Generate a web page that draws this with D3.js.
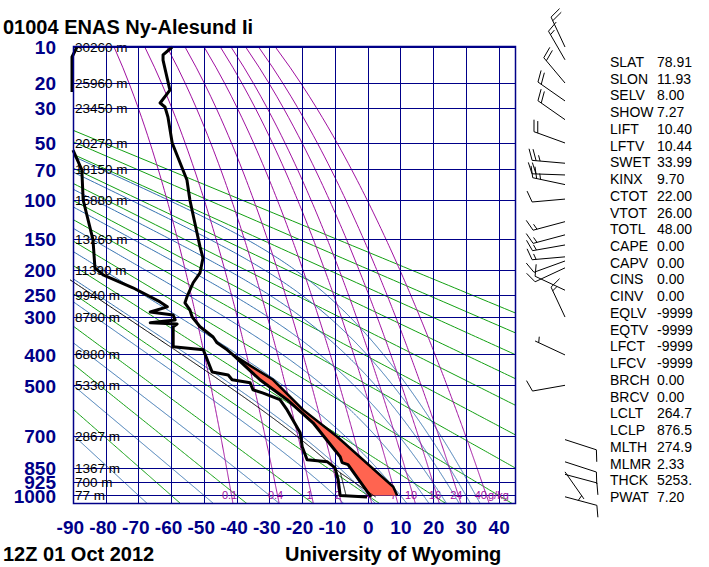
<!DOCTYPE html>
<html>
<head>
<meta charset="UTF-8">
<title>01004 ENAS Ny-Alesund Ii</title>
<script src="https://d3js.org/d3.v7.min.js"></script>
<style>
  body { margin: 0; background: #fff; }
  svg { display: block; font-family: "Liberation Sans", Arial, sans-serif; }
</style>
</head>
<body>
<div id="chart"></div>
<script>
// ---- sounding (hPa, degC) ----
const tempP = [10, 11.8, 13.1, 22.6, 27.9, 29.7, 34.6, 50, 79.6, 100, 162, 180, 206, 225, 254, 267, 283, 300, 324, 351, 367, 387, 402, 481, 552, 643, 796, 825, 835, 1000, 1009];
const tempT = [-59.7, -62.5, -62.5, -60.4, -63.4, -61.9, -61.0, -59.7, -55.2, -54.3, -51.2, -50.3, -51.2, -53.3, -55.2, -55.8, -54.3, -53.6, -51.2, -47.2, -46.0, -42.9, -41.1, -32.9, -24.6, -16.7, -8.4, -7.8, -6.0, 0.7, 1.0];

const dewP = [10, 12.3, 23.3, 30, 50, 54.9, 70.6, 100, 151, 197, 210, 235, 265, 276, 288, 295, 307, 314, 317, 324, 378, 387, 455, 465, 481, 491, 516, 528, 552, 591, 686, 749, 811, 821, 850, 914, 1000, 1009];
const dewT = [-88.8, -90.3, -90.3, null, null, -90.0, -87.3, -86.9, -83.9, -83.3, -80.8, -71.7, -63.4, -61.2, -66.4, -59.4, -58.8, -66.4, -58.2, -59.4, -59.4, -50.2, -47.5, -42.6, -41.4, -35.9, -35.0, -31.9, -26.8, -24.6, -20.6, -20.0, -18.5, -12.3, -10.0, -9.0, -8.4, -0.2];

// right edge of the shaded area
const shadeP = [402, 481, 591, 703, 952, 1000];
const shadeT = [-41.1, -28.9, -19.7, -9.3, 7.8, 9.0];

// axes / labels
const pressureTicks = [10, 20, 30, 50, 70, 100, 150, 200, 250, 300, 400, 500, 700, 850, 925, 1000];
const heightLabels = ["30260 m", "25960 m", "23450 m", "20270 m", "18150 m", "15880 m", "13260 m", "11390 m", "9940 m", "8780 m", "6880 m", "5330 m", "2867 m", "1367 m", "700 m", "77 m"];
const tempTicks = [-90, -80, -70, -60, -50, -40, -30, -20, -10, 0, 10, 20, 30, 40];

// background lines
const dryThetaC = [-60, -40, -20, 0, 20, 40, 60, 80, 100, 120, 140, 160, 180];
const moistThetaW = [-70, -50, -30, -10, 0, 10, 17, 22.5, 26.5, 30, 33];
const mixRatios = [0.1, 0.4, 1, 2, 4, 7, 10, 16, 24, 40];
const mixLabels = ["0.1", "0.4", "1", "2", "4", "7", "10", "16", "24", "40"];

// winds (hPa, deg, knots)
const windP   = [10, 13, 20, 27, 36, 50, 65, 75, 84, 99, 126, 144, 159, 178, 185, 197, 240, 300, 402, 500, 716, 821, 872, 885, 1008];
const windDir = [335, 330, 320, 305, 305, 290, 275, 272, 282, 265, 255, 255, 260, 265, 250, 245, 295, 335, 295, 260, 108, 108, 145, 105, 105];
const windSpd = [20, 15, 20, 20, 20, 20, 25, 20, 25, 10, 15, 15, 15, 15, 10, 10, 10, 15, 5, 10, 10, 10, 5, 10, 10];

// station indices
const statNames = ["SLAT", "SLON", "SELV", "SHOW", "LIFT", "LFTV", "SWET", "KINX", "CTOT", "VTOT", "TOTL", "CAPE", "CAPV", "CINS", "CINV", "EQLV", "EQTV", "LFCT", "LFCV", "BRCH", "BRCV", "LCLT", "LCLP", "MLTH", "MLMR", "THCK", "PWAT"];
const statValues = ["78.91", "11.93", "8.00", "7.27", "10.40", "10.44", "33.99", "9.70", "22.00", "26.00", "48.00", "0.00", "0.00", "0.00", "0.00", "-9999", "-9999", "-9999", "-9999", "0.00", "0.00", "264.7", "876.5", "274.9", "2.33", "5253.", "7.20"];

// mixed layer parcel
const sfcP = 1009, lclP = 876.5, lclT = 264.7, mlTheta = 274.9, mlMix = 2.33;

const kappa = 0.2857;
const navy = "#000088";

const svg = d3.select("#chart").append("svg")
    .attr("width", 709).attr("height", 567);
svg.append("rect").attr("width", 709).attr("height", 567).attr("fill", "#fff");

const x = d3.scaleLinear().domain([-90, 45]).range([73, 515]);
const y = d3.scalePow().exponent(kappa).domain([10, 1050]).range([47, 504]);
const crisp = v => Math.round(v) + 0.5;

const defs = svg.append("defs");
defs.append("clipPath").attr("id", "plot")
    .append("rect").attr("x", 73).attr("y", 47).attr("width", 442).attr("height", 457);
defs.append("clipPath").attr("id", "plotWide")
    .append("rect").attr("x", 70).attr("y", 42).attr("width", 447).attr("height", 464);

const line = d3.line().x(d => x(d[1])).y(d => y(d[0])).defined(d => d[1] != null);

// thermodynamics helpers
const es = tc => 6.112 * Math.exp(17.67 * tc / (tc + 243.5));
function mixTd(w, p) {
    const e = w * p / (622 + w);
    const l = Math.log(e / 6.112);
    return 243.5 * l / (17.67 - l);
}
function lapse(p, T) {
    const Rd = 287.04, Cp = 1005.7, Lv = 2.501e6, eps = 0.622;
    const e = es(T - 273.15);
    const rs = eps * e / (p - e);
    return (Rd * T + Lv * rs) / (p * (Cp + Lv * Lv * rs * eps / (Rd * T * T)));
}
function moist(p0, T0, pTop, pBot) {
    const up = [[p0, T0 - 273.15]], down = [];
    const step = (p, T, h) => {
        const k1 = lapse(p, T), k2 = lapse(p + h / 2, T + h / 2 * k1),
              k3 = lapse(p + h / 2, T + h / 2 * k2), k4 = lapse(p + h, T + h * k3);
        return T + h / 6 * (k1 + 2 * k2 + 2 * k3 + k4);
    };
    let p = p0, T = T0;
    while (p > pTop && T > 150) {
        const h = -Math.min(2, p - pTop);
        T = step(p, T, h); p += h;
        up.push([p, T - 273.15]);
    }
    p = p0; T = T0;
    while (p < pBot) {
        const h = Math.min(2, pBot - p);
        T = step(p, T, h); p += h;
        down.push([p, T - 273.15]);
    }
    return down.reverse().concat(up);
}
const pGrid = d3.range(10, 1051, 5);

const bg = svg.append("g").attr("clip-path", "url(#plot)");

// dry adiabats
bg.selectAll(".dry").data(dryThetaC).join("path")
    .attr("fill", "none").attr("stroke", "#12a012").attr("stroke-width", 1)
    .attr("d", th => line(pGrid.map(p => [p, (th + 273.15) * Math.pow(p / 1000, kappa) - 273.15])));

// moist adiabats
bg.selectAll(".moist").data(moistThetaW).join("path")
    .attr("fill", "none").attr("stroke", "#3572b0").attr("stroke-width", 1)
    .attr("d", tw => line(moist(1000, tw + 273.15, 10, 1050)));

// mixing ratio lines
bg.selectAll(".mix").data(mixRatios).join("path")
    .attr("fill", "none").attr("stroke", "#a010a0").attr("stroke-width", 1)
    .attr("d", w => line(pGrid.map(p => [p, mixTd(w, p)])));

// grid: isobars and isotherms
bg.selectAll(".isobar").data(pressureTicks).join("line")
    .attr("x1", 73).attr("x2", 515)
    .attr("y1", p => crisp(y(p))).attr("y2", p => crisp(y(p)))
    .attr("stroke", navy).attr("stroke-width", 1);
bg.selectAll(".isotherm").data(tempTicks.filter(t => t > -90)).join("line")
    .attr("x1", t => crisp(x(t))).attr("x2", t => crisp(x(t)))
    .attr("y1", 47).attr("y2", 504)
    .attr("stroke", navy).attr("stroke-width", 1);

// height labels
svg.selectAll(".hgt").data(pressureTicks).join("text")
    .attr("x", 75).attr("y", p => y(p) + 5)
    .attr("font-size", 13.5).attr("fill", "#000")
    .text((p, i) => heightLabels[i]);

// mixing ratio labels
const nMix = mixRatios.length;
svg.selectAll(".mixlab").data(mixRatios).join("text")
    .attr("x", (w, i) => i === nMix - 1 ? 487 : x(mixTd(w, 1000)) - 2).attr("y", 499)
    .attr("text-anchor", (w, i) => i === nMix - 1 ? "end" : "middle")
    .attr("font-size", 11).attr("fill", "#a010a0")
    .text((w, i) => mixLabels[i]);
svg.append("text").attr("x", 488).attr("y", 499)
    .attr("font-size", 11).attr("fill", "#a010a0").text("g/kg");

// profiles
const prof = svg.append("g").attr("clip-path", "url(#plotWide)");
const tempData = tempP.map((p, i) => [p, tempT[i]]);
const dewData = dewP.map((p, i) => [p, dewT[i]]);
const shadeData = shadeP.map((p, i) => [p, shadeT[i]]);

// shaded area between the shading edge and the temperature
const lowTemp = tempData.filter(d => d[0] >= shadeP[0] && d[0] <= 1000);
prof.append("path")
    .attr("fill", "#ff6450").attr("stroke", "none")
    .attr("d", line(shadeData.concat(lowTemp.slice().reverse())) + "Z");

// parcel path
const dryPart = d3.range(sfcP, lclP, -2).concat([lclP]).map(p => [p, mlTheta * Math.pow(p / 1000, kappa) - 273.15]);
const mixPart = d3.range(sfcP, lclP, -2).concat([lclP]).map(p => [p, mixTd(mlMix, p)]);
const moistPart = moist(lclP, lclT, 10, lclP);
[dryPart, mixPart, moistPart].forEach(dd => {
    prof.append("path").attr("fill", "none").attr("stroke", "#000").attr("stroke-width", 1)
        .attr("d", line(dd));
});

prof.append("path").attr("fill", "none").attr("stroke", "#000").attr("stroke-width", 2.5)
    .attr("d", line(shadeData));
prof.append("path").attr("fill", "none").attr("stroke", "#000").attr("stroke-width", 3)
    .attr("stroke-linejoin", "round").attr("d", line(tempData));
prof.append("path").attr("fill", "none").attr("stroke", "#000").attr("stroke-width", 3)
    .attr("stroke-linejoin", "round").attr("d", line(dewData));

// border
svg.append("rect").attr("x", 73.5).attr("y", 46.5).attr("width", 442).attr("height", 457)
    .attr("fill", "none").attr("stroke", navy).attr("stroke-width", 1.5);

// pressure axis
const yAxis = svg.append("g").attr("transform", "translate(73,0)")
    .call(d3.axisLeft(y).tickValues(pressureTicks).tickSize(0).tickPadding(17).tickFormat(d => d));
yAxis.select(".domain").remove();
yAxis.selectAll("text").attr("font-size", 19).attr("font-weight", "bold")
    .attr("fill", navy).attr("dy", "0.36em").attr("font-family", "Liberation Sans, Arial, sans-serif");

// temperature axis
const xAxis = svg.append("g").attr("transform", "translate(0,504)")
    .call(d3.axisBottom(x).tickValues(tempTicks).tickSize(0).tickPadding(17)
        .tickFormat(d => d < 0 ? "-" + (-d) : "" + d));
xAxis.select(".domain").remove();
xAxis.selectAll("text").attr("font-size", 19).attr("font-weight", "bold")
    .attr("fill", navy).attr("font-family", "Liberation Sans, Arial, sans-serif")
    .attr("dx", d => d < 0 ? -3.2 : 0);

// wind barbs
const barbX = 565;
function barb(bx, by, dir, spd) {
    const a = dir * Math.PI / 180;
    const u = [Math.sin(a), -Math.cos(a)];
    const perp = [-u[1], u[0]];
    const L = 33, fl = 12, gap = 4;
    const tip = [bx + u[0] * L, by + u[1] * L];
    const path = d3.path();
    path.moveTo(bx, by); path.lineTo(tip[0], tip[1]);
    let s = Math.round(spd / 5) * 5, pos = 0;
    while (s >= 10) {
        const b = [tip[0] - u[0] * pos, tip[1] - u[1] * pos];
        path.moveTo(b[0], b[1]);
        path.lineTo(b[0] + fl * (0.94 * perp[0] + 0.34 * u[0]), b[1] + fl * (0.94 * perp[1] + 0.34 * u[1]));
        s -= 10; pos += gap;
    }
    if (s >= 5) {
        if (pos === 0) pos = gap;
        const b = [tip[0] - u[0] * pos, tip[1] - u[1] * pos];
        path.moveTo(b[0], b[1]);
        path.lineTo(b[0] + fl / 2 * (0.94 * perp[0] + 0.34 * u[0]), b[1] + fl / 2 * (0.94 * perp[1] + 0.34 * u[1]));
    }
    return path.toString();
}
svg.selectAll(".barb").data(windP).join("path")
    .attr("fill", "none").attr("stroke", "#000").attr("stroke-width", 1)
    .attr("d", (p, i) => barb(barbX, y(p), windDir[i], windSpd[i]));

// indices
const stats = svg.append("g").attr("font-size", 14).attr("fill", "#000");
stats.selectAll(".sn").data(statNames).join("text")
    .attr("x", 610).attr("y", (d, i) => 67 + i * 16.73).text(d => d);
stats.selectAll(".sv").data(statValues).join("text")
    .attr("x", 657).attr("y", (d, i) => 67 + i * 16.73).text(d => d);

// titles
svg.append("text").attr("x", 3).attr("y", 34).attr("font-size", 20).attr("font-weight", "bold")
    .text("01004 ENAS Ny-Alesund Ii");
svg.append("text").attr("x", 3).attr("y", 561).attr("font-size", 20).attr("font-weight", "bold")
    .text("12Z 01 Oct 2012");
svg.append("text").attr("x", 285).attr("y", 561).attr("font-size", 20).attr("font-weight", "bold")
    .text("University of Wyoming");
</script>
</body>
</html>
